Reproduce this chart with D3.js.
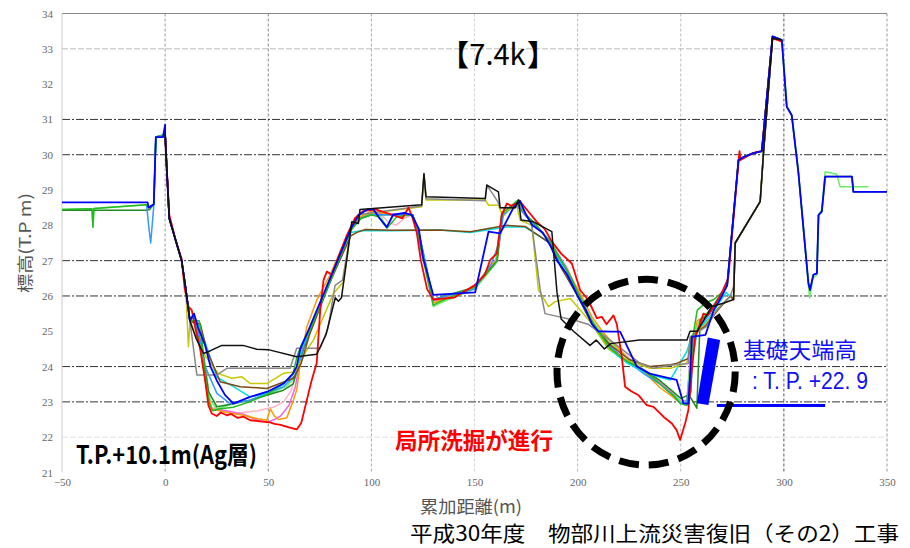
<!DOCTYPE html>
<html><head><meta charset="utf-8">
<script src="https://cdn.jsdelivr.net/npm/d3@7"></script>
<style>body{margin:0;background:#fff} svg{display:block}</style>
</head><body><div id="vis-container"></div>
<script>
// cross section data: [distance (m), elevation T.P. m]
const xTicks = [-50, 0, 50, 100, 150, 200, 250, 300, 350];
const yTicks = [21, 22, 23, 24, 25, 26, 27, 28, 29, 30, 31, 32, 33, 34];

// shared pieces of the surveys
const berm = [[-50,28.45],[-35.5,28.47],[-35,27.95],[-34.5,28.48],[-9,28.58],[-8.2,28.5],[-5.5,28.6],[-4.5,30.5],[-1,30.55],[0,30.7]];
const bermBlue = [[-50,28.65],[-8.5,28.65],[-8,28.5],[-5.5,28.6],[-4.5,30.5],[-1,30.5],[0,30.85]];
const bermDG = [[-50,28.43],[-8.5,28.43],[-7.5,28.45],[-5.5,28.6],[-4.5,30.5],[-1,30.55],[0,30.7]];
const bermDB = [[-9,28.6],[-8,28.0],[-7,27.5],[-5.5,28.55],[-4.5,30.5],[-1,30.55],[0,30.8]];
const bankL = [[0,30.6],[0.8,29.6],[2,28.2],[5,27.6],[8,27.0],[10,26.2],[12,25.3]];
const bankRNew = [[272.5,26.3],[278,29.85],[281,29.95],[285,30.04],[289.3,30.1],[294.5,33.35],[299,33.25]];
const bankROld = [[275.6,25.9],[276.4,27.5],[288.5,28.67],[290.1,30.04],[294.5,33.3],[299,33.25]];
const descR = [[301.4,31.36],[303.8,31.12],[307,29.52],[311.9,26.36],[312.7,26.17],[314.3,26.6],[316,26.64],[316.8,28.29],[318.4,28.39],[320,29.38],[333,29.38],[333.7,28.95],[350,28.95]];
const descRLime = [[301.4,31.36],[303.8,31.12],[307,29.52],[311.9,26.3],[312.5,25.95],[314,26.5],[316,26.6],[316.8,28.29],[318.4,28.45],[320,29.52],[325.6,29.45],[327.3,29.09],[341,29.09]];

const pink = [...bankL,[14,25.4],[17,25.0],[20,23.5],[22.5,22.85],[33,22.67],[45,22.75],[53,22.86],[57.4,23.0],[61,23.3],[64,23.9],[67,24.6],[70,25.1],[80,26.5],[90,27.85],[95,28.2],[100,28.3],[104,28.35],[108,28.1],[112,28.0],[116,28.2],[120,28.3],[123,27.8],[130,25.9],[150,26.2],[158,26.8],[161,27.1],[163.5,28.3],[170,28.6],[176,28.2],[186,27.6],[195,26.8],[201,26.0],[207,25.3],[214,24.8],[222,24.4],[230,24.0],[238,23.7],[245,23.3],[250,23.0],[253,23.05],[255,24.2],[258,25.2],[264,25.5],[270,26.1],...bankRNew,...descR];
const violet = [...bankL,[14,25.3],[17,24.9],[20,23.4],[22.5,22.8],[30,22.75],[38,22.65],[44,22.5],[49.3,22.42],[53,22.5],[56,22.6],[60,22.9],[63,23.4],[66,24.3],[70,25.0],[80,26.5],[90,27.9],[95,28.25],[100,28.35],[120,28.3],[123,27.7],[130,25.85],[150,26.2],[158,26.85],[161,27.1],[163.5,28.3],[170,28.6],[176,28.2],[186,27.6],[195,26.75],[201,26.0],[207,25.2],[215,24.6],[223,24.2],[232,23.85],[240,23.55],[246,23.25],[250,23.0],[253,23.05],[255,24.5],[259,25.2],[264,25.5],[270,26.1],...bankRNew];
const orange = [...bankL,[14,25.3],[16,24.9],[19.5,23.6],[22.5,22.8],[30,22.7],[38,22.62],[45,22.52],[49.3,22.48],[51,22.8],[53,22.6],[55,22.5],[59,22.55],[62.2,23.05],[63.8,23.34],[66,24.3],[68.7,25.13],[73.5,25.88],[80,26.6],[90,27.95],[95,28.25],[100,28.4],[110,28.3],[120,28.3],[123,27.7],[130,25.8],[150,26.25],[158,26.9],[161,27.0],[163.5,28.3],[170,28.6],[176,28.2],[186,27.6],[195,26.7],[201,26.1],[207,25.4],[212,25.0],[218,24.6],[225,24.2],[233,23.8],[240,23.4],[246,23.15],[250,22.95],[253,23.0],[255,24.4],[258,25.3],[264,25.5],[270,26.1],...bankRNew];
const lime = [...berm,...bankL,[14,25.3],[16,25.2],[18.5,24.4],[21.8,23.05],[25.1,22.8],[33.1,22.95],[41,23.05],[49.3,23.2],[59,23.45],[63,23.7],[66,24.6],[70,25.05],[80,26.45],[90,27.9],[95,28.2],[100,28.3],[104,28.3],[107.5,27.95],[111,28.3],[120,28.3],[123,27.7],[130,25.7],[133.3,25.8],[150.3,26.2],[160,26.9],[163,28.2],[171,28.7],[175,28.3],[180,28.0],[187,27.5],[195,26.7],[201,26.0],[207,25.3],[215,24.7],[223,24.3],[232,23.9],[240,23.6],[246,23.3],[250,23.0],[253,23.0],[255.5,24.8],[259,25.3],[264,25.6],[270,26.1],...bankRNew,...descRLime];
const darkgreen = [...bermDG,...bankL,[14,25.3],[15,25.2],[18,24.5],[21,23.3],[25.1,22.86],[33,22.95],[41.2,23.05],[50,23.2],[57.4,23.33],[62,23.5],[66,24.3],[70,25.0],[80,26.45],[90,27.9],[95,28.2],[100,28.3],[120,28.3],[123,27.8],[130,25.9],[150,26.25],[158,26.8],[161,27.0],[163.5,28.3],[170,28.65],[176,28.2],[186,27.6],[195,26.7],[201,26.0],[207,25.2],[215,24.5],[223,24.2],[232,23.9],[240,23.6],[246,23.3],[250,23.1],[254,23.2],[257.8,22.82],[259.4,25.32],[264,25.5],[270,26.1],...bankRNew];
const dodger = [...bermDB,...bankL,[14,25.5],[17,24.7],[19.4,24.0],[25.1,23.24],[31.5,22.95],[41.2,23.05],[57.4,23.43],[63.8,23.8],[67,24.55],[70,25.0],[80,26.4],[90,27.9],[95,28.2],[100,28.3],[120,28.3],[123,27.8],[130,25.9],[150,26.2],[158,26.9],[162,27.5],[164,28.3],[170,28.6],[176,28.2],[186,27.6],[195,26.7],[200,26.0],[207,25.2],[215,24.6],[223,24.2],[232,23.8],[240,23.5],[246,23.2],[250,22.95],[253,23.0],[255,24.0],[258,25.0],[264,25.5],[270,26.1],...bankRNew];
const cyan = [...bankL,[14,25.4],[17,25.1],[20.5,24.5],[25.1,23.7],[33.1,23.43],[41.2,23.14],[49.3,23.25],[57.4,23.5],[63.8,23.9],[66,24.5],[70,25.0],[80,26.45],[90,27.8],[95,27.85],[110,27.85],[133,27.87],[148,27.8],[165.7,27.95],[174.5,27.95],[186.7,27.5],[192,26.9],[200,26.0],[207.7,25.13],[215.8,24.47],[224,24.1],[232,23.85],[240,23.7],[244.9,23.62],[252.9,24.42],[254.5,24.7],[258,25.0],[264,25.4],[272,26.1],...bankROld];
const yellow = [[0,30.6],[0.8,29.6],[2,28.2],[5,27.6],[8,27.0],[10,26.2],[11.3,24.56],[12.1,25.3],[14,25.0],[18.6,24.37],[25.8,23.8],[32.3,23.67],[37.2,23.71],[41.2,23.52],[49.3,23.52],[57.4,23.81],[63,23.85],[68.7,24.47],[71.9,24.75],[81.6,26.07],[86.5,26.4],[90.5,28.06],[94.5,28.3],[124.4,28.53],[125.5,29.4],[126.5,28.72],[155.2,28.72],[156.8,28.57],[161.6,28.57],[163.2,28.34],[170.5,28.57],[172.1,28.15],[177.8,28.0],[181,26.17],[185.9,25.7],[189.1,25.84],[196.4,25.93],[202,25.55],[207,25.2],[215,24.5],[225,24.15],[235,23.95],[245,23.95],[253,24.1],[255,24.85],[262,25.2],[268,25.65],[274,26.0],...bankROld];
const brown = [...bankL,[14.5,25.22],[17,25.22],[20,24.5],[26.7,23.57],[36.4,23.43],[49.3,23.38],[62.2,23.67],[66,24.1],[70,24.9],[80,26.4],[90,27.7],[93,27.8],[97,27.88],[110,27.86],[133,27.87],[148,27.82],[165.7,28.0],[174.5,27.97],[186.7,27.49],[192,26.8],[200,26.0],[207,25.2],[216,24.6],[225,24.2],[235,24.0],[245,24.05],[248,24.09],[253.7,24.23],[255,24.85],[262,25.15],[268,25.6],[274,26.0],...bankROld];
const gray = [...bankL,[14,24.4],[15.4,23.76],[25,23.76],[29.9,23.95],[60.6,23.95],[63.8,24.52],[75.2,24.52],[79,25.1],[82.4,26.3],[86,26.45],[90.5,28.0],[93.5,28.3],[124.4,28.55],[125.5,29.45],[126.5,28.75],[155.2,28.7],[156,29.14],[161,28.7],[162.5,28.5],[170,28.5],[171.5,28.6],[175,28.3],[177.8,28.0],[181.8,26.2],[184.2,25.5],[198,25.32],[205,25.2],[215.8,24.75],[230.3,24.09],[236.8,23.95],[244.9,24.04],[253.7,24.09],[254.5,24.84],[262.4,25.13],[267.5,25.6],[273.9,25.98],[275.6,26.26],[276.4,27.49],[288.5,28.67],[290.1,30.04],[294.5,33.3],[299,33.25]];
const green = [...berm,...bankL,[14,25.3],[16.5,25.3],[17.5,25.0],[19.8,23.5],[21.5,22.95],[23,22.75],[26,22.8],[33,22.85],[41,23.0],[49,23.2],[57,23.5],[62,23.8],[64,24.3],[66,24.6],[70,25.0],[80,26.4],[90,27.85],[95,28.2],[100,28.3],[103.4,28.24],[107.5,27.92],[112.3,28.24],[120,28.3],[123,27.6],[130,25.74],[133.3,25.84],[150.3,26.26],[160.8,26.97],[163.2,28.34],[171.3,28.72],[175,28.3],[180,28.0],[187,27.5],[192,27.0],[197,26.5],[201,26.0],[205,25.5],[210,25.0],[216,24.5],[224,24.15],[232,23.9],[240,23.5],[246,23.2],[250,22.95],[253,22.9],[255,23.3],[256,24.9],[258,25.6],[262,25.8],[266,25.9],[270,26.1],...bankRNew,...descR];
const red = [[0,30.5],[2,28.3],[5,27.6],[8,27.05],[9.5,26.2],[11.3,25.7],[12.9,25.6],[14.5,25.13],[17,24.5],[19.4,23.6],[21,22.9],[22.6,22.67],[25,22.6],[27,22.7],[29.9,22.62],[32,22.66],[35,22.55],[38,22.58],[41.2,22.48],[46,22.45],[50.9,22.42],[53,22.38],[56,22.35],[60,22.28],[63.8,22.22],[66,22.4],[68.7,23.05],[71,23.6],[73.5,24.1],[75.2,25.6],[76.8,26.45],[78.4,26.69],[80.8,26.6],[84,27.1],[88,27.7],[92,28.2],[96,28.4],[102,28.45],[110,28.3],[115,28.2],[118,28.5],[120,28.2],[122,27.8],[124,27.0],[127,26.2],[130,25.9],[140,25.95],[150,26.3],[155,26.6],[157.6,27.02],[160.8,27.2],[163.2,28.3],[165.7,28.62],[168,28.55],[172.1,28.67],[176,28.4],[180.2,28.1],[184,27.9],[187.5,27.54],[192,27.2],[197.2,26.92],[201.2,26.17],[205,25.9],[209.3,25.37],[211.7,25.41],[214,25.2],[217.4,25.45],[219,25.2],[221.4,24.28],[223,23.43],[226,23.3],[229.5,23.19],[233.5,22.91],[236.8,22.86],[241.6,22.58],[245.7,22.39],[248,22.2],[249.7,21.92],[252.1,22.39],[253.7,22.77],[255.4,23.9],[257,24.84],[259.4,25.22],[261,25.5],[263,25.45],[266,25.7],[270,26.1],[273,26.5],[278,29.8],[278.5,30.1],[279,29.85],[285,30.05],[289.3,30.1],[294.5,33.3],[299,33.2]];
const blue = [...bermBlue,...bankL,[14,25.5],[16,25.1],[19.4,24.6],[22,24.0],[25.1,23.6],[29,23.2],[33.1,22.95],[41.2,23.14],[50,23.3],[57.4,23.52],[62,23.8],[63.8,24.0],[65.5,24.5],[67,24.7],[70,25.1],[75,25.8],[80,26.5],[85,27.2],[90,27.9],[94,28.3],[98,28.45],[101,28.45],[104,28.2],[107.5,27.95],[110.5,28.3],[116,28.35],[119.6,28.3],[123,27.9],[125,27.1],[130,26.03],[150.3,26.1],[156.8,27.82],[162.4,27.77],[168.9,28.5],[172,28.7],[175,28.3],[178,28.0],[183,27.8],[187,27.4],[190,27.0],[195,26.6],[200,26.0],[204,25.6],[207,25.2],[210,25.0],[215.8,24.99],[220.6,24.99],[228.7,24.0],[235,23.8],[241.6,23.71],[248,23.62],[251.3,22.96],[253.7,22.95],[254.5,23.71],[255.4,24.84],[262,24.9],[266,25.6],[270,26.0],...bankRNew,...descR];
const black = [...bankL,[15,24.8],[18.6,24.37],[22,24.45],[27.5,24.6],[37.8,24.6],[44.4,24.49],[50,24.48],[63.8,24.28],[73.5,24.35],[78,24.9],[82.5,25.95],[84,25.85],[85.5,25.95],[88,27.0],[90.5,28.1],[93.7,28.05],[94.5,28.45],[124.4,28.58],[125.5,29.47],[126.5,28.81],[155.2,28.76],[156,29.14],[161.6,28.95],[162.4,28.5],[169.7,28.5],[171.3,28.72],[172.6,28.15],[178.6,28.1],[187.5,27.82],[190,26.1],[192,25.35],[198,25.0],[206,24.6],[209,24.75],[213,24.5],[216,24.65],[230,24.75],[253,24.75],[254.5,25.0],[258,25.0],[265,25.7],[271,25.8],...bankROld];

// foundation top (T.P.+22.9) annotation
const footingX = [263.1, 269.1, 263.4, 257.8];
const footingY = [24.82, 24.75, 22.91, 22.96];
const footingLevel = 22.9;
const footingLineX = [267.5, 320];
// scour circle: centre and radii in data units
const scourCenter = [233.2, 23.84];
const scourRadius = [43.2, 2.63];

const series = [
  { name: "pink", data: pink, color: "#ffb3c6" },
  { name: "violet", data: violet, color: "#ee66ee" },
  { name: "orange", data: orange, color: "#ff9900" },
  { name: "lime", data: lime, color: "#66ee66" },
  { name: "darkgreen", data: darkgreen, color: "#1f8a1f" },
  { name: "dodger", data: dodger, color: "#3399ff" },
  { name: "cyan", data: cyan, color: "#00dfe6" },
  { name: "yellow", data: yellow, color: "#c8c800" },
  { name: "brown", data: brown, color: "#7a4a10" },
  { name: "gray", data: gray, color: "#888888" },
  { name: "green", data: green, color: "#22bb22" },
  { name: "red", data: red, color: "#ff0000" },
  { name: "blue", data: blue, color: "#0000ff" },
  { name: "black", data: black, color: "#111111" }
];

const width = 910, height = 548;
const svg = d3.select("#vis-container").append("svg")
  .attr("width", width).attr("height", height);

const x = d3.scaleLinear().domain([-50, 350]).range([62, 887]);
const y = d3.scaleLinear().domain([21, 34]).range([472.5, 13.5]);

// grid
const vStyle = { 0: "#999", 50: "#888", 100: "#aaa", 150: "#d5d5d5", 200: "#bbb", 250: "#bbb", 300: "#555", 350: "#999" };
svg.append("g").selectAll("line").data(xTicks.filter(d => d > -50)).enter().append("line")
  .attr("x1", d => x(d)).attr("x2", d => x(d))
  .attr("y1", y(34)).attr("y2", y(21))
  .attr("stroke", d => vStyle[d]).attr("stroke-width", 1)
  .attr("stroke-dasharray", "3,2");

const darkLines = [23, 24, 26, 27, 30, 31];
const lightLines = [22, 33];
svg.append("g").selectAll("line").data(darkLines).enter().append("line")
  .attr("x1", x(-50)).attr("x2", x(350))
  .attr("y1", d => y(d)).attr("y2", d => y(d))
  .attr("stroke", "#333").attr("stroke-width", 1)
  .attr("stroke-dasharray", "8,2,2,2");
svg.append("g").selectAll("line").data(lightLines).enter().append("line")
  .attr("x1", x(-50)).attr("x2", x(350))
  .attr("y1", d => y(d)).attr("y2", d => y(d))
  .attr("stroke", d => d === 22 ? "#e2e2e2" : "#bbb").attr("stroke-width", 1)
  .attr("stroke-dasharray", "6,2");
svg.append("line").attr("x1", x(-50)).attr("x2", x(350)).attr("y1", y(34)).attr("y2", y(34))
  .attr("stroke", "#888").attr("stroke-width", 1.2);
svg.append("line").attr("x1", x(-50)).attr("x2", x(-50)).attr("y1", y(34)).attr("y2", y(21))
  .attr("stroke", "#ccc").attr("stroke-width", 1);

// axes (labels only)
const yAxis = svg.append("g").attr("transform", `translate(${x(-50)},0)`)
  .call(d3.axisLeft(y).tickValues(yTicks).tickSize(0).tickPadding(9));
const xAxis = svg.append("g").attr("transform", `translate(0,${y(21)})`)
  .call(d3.axisBottom(x).tickValues(xTicks).tickSize(0).tickPadding(6));
[yAxis, xAxis].forEach(g => {
  g.select(".domain").remove();
  g.selectAll("text").attr("font-family", "Liberation Serif, serif")
    .attr("font-size", 11).attr("fill", "#666");
});

// survey lines
const line = d3.line().x(d => x(d[0])).y(d => y(d[1]));
svg.append("g").selectAll("path").data(series).enter().append("path")
  .attr("d", d => line(d.data))
  .attr("fill", "none")
  .attr("stroke", d => d.color)
  .attr("stroke-width", d => (d.name === "red" || d.name === "blue") ? 1.8 : 1.5)
  .attr("stroke-linejoin", "round");

// foundation bar and level line
svg.append("polygon")
  .attr("points", footingX.map((v, i) => [x(v), y(footingY[i])].join(",")).join(" "))
  .attr("fill", "#0000ff");
svg.append("line")
  .attr("x1", x(footingLineX[0])).attr("x2", x(footingLineX[1]))
  .attr("y1", y(footingLevel)).attr("y2", y(footingLevel))
  .attr("stroke", "#0000ff").attr("stroke-width", 3);

// scour circle
svg.append("ellipse")
  .attr("cx", x(scourCenter[0])).attr("cy", y(scourCenter[1]))
  .attr("rx", x(scourCenter[0] + scourRadius[0]) - x(scourCenter[0]))
  .attr("ry", y(scourCenter[1] - scourRadius[1]) - y(scourCenter[1]))
  .attr("fill", "none").attr("stroke", "#000").attr("stroke-width", 7)
  .attr("stroke-dasharray", "20,10");

// texts
const jp = "Noto Sans CJK JP, sans-serif";
svg.append("text").attr("x", 497.5).attr("y", 65).attr("text-anchor", "middle")
  .attr("font-family", jp).attr("font-size", 29).attr("fill", "#000").text("7.4k");
svg.append("text").attr("x", 469).attr("y", 66).attr("text-anchor", "end")
  .attr("font-family", jp).attr("font-size", 29).attr("font-weight", "bold").attr("fill", "#000").text("【");
svg.append("text").attr("x", 527).attr("y", 66).attr("text-anchor", "start")
  .attr("font-family", jp).attr("font-size", 29).attr("font-weight", "bold").attr("fill", "#000").text("】");

svg.append("text").attr("x", 76).attr("y", 464)
  .attr("font-family", jp).attr("font-size", 25).attr("font-weight", "bold")
  .attr("textLength", 181).attr("lengthAdjust", "spacingAndGlyphs").attr("fill", "#000")
  .text("T.P.+10.1m(Ag層)");

svg.append("text").attr("x", 395).attr("y", 449)
  .attr("font-family", jp).attr("font-size", 22.5).attr("font-weight", "bold")
  .attr("textLength", 158).attr("lengthAdjust", "spacingAndGlyphs").attr("fill", "#ff0000")
  .text("局所洗掘が進行");

svg.append("text").attr("x", 743).attr("y", 358)
  .attr("font-family", jp).attr("font-size", 22)
  .attr("textLength", 114).attr("lengthAdjust", "spacingAndGlyphs").attr("fill", "#1010f0")
  .text("基礎天端高");
svg.append("text").attr("x", 752).attr("y", 389)
  .attr("font-family", "Liberation Sans, sans-serif").attr("font-size", 23)
  .attr("textLength", 116).attr("lengthAdjust", "spacingAndGlyphs").attr("fill", "#1010f0")
  .text(": T. P. +22. 9");

svg.append("text").attr("transform", "translate(31,243) rotate(-90)").attr("text-anchor", "middle")
  .attr("font-family", jp).attr("font-size", 16).attr("fill", "#555")
  .attr("textLength", 100).attr("lengthAdjust", "spacingAndGlyphs")
  .text("標高(T.P m)");

svg.append("text").attr("x", 471).attr("y", 513).attr("text-anchor", "middle")
  .attr("font-family", jp).attr("font-size", 17).attr("fill", "#555")
  .attr("textLength", 102).attr("lengthAdjust", "spacingAndGlyphs")
  .text("累加距離(m)");

svg.append("text").attr("x", 410).attr("y", 541)
  .attr("font-family", jp).attr("font-size", 21).attr("fill", "#000")
  .attr("textLength", 489).attr("lengthAdjust", "spacingAndGlyphs")
  .text("平成30年度　物部川上流災害復旧（その2）工事");
</script></body></html>
